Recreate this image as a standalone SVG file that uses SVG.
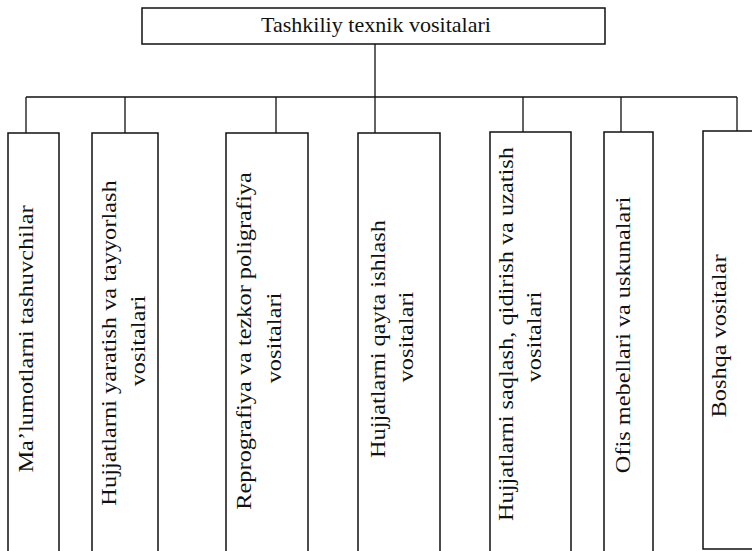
<svg xmlns="http://www.w3.org/2000/svg" width="752" height="551" viewBox="0 0 752 551">
<style>
.box{fill:#fff;stroke:#111;stroke-width:1.5}
.ln{fill:none;stroke:#111;stroke-width:1.3}
.t{font-family:"Liberation Serif","Times New Roman",serif;font-size:21px;fill:#111;text-anchor:middle}
</style>
<rect width="752" height="551" fill="#fff"/>
<g id="connectors">
<path class="ln" d="M375 44V133M26 97H737M26 97V133M125 97V133M276 97V133M523 97V132M621 97V132M737 97V131"/>
</g>
<g id="root">
<rect class="box" x="142" y="8" width="463" height="36"/>
<text class="t" x="376" y="32" font-size="20" textLength="230" lengthAdjust="spacingAndGlyphs">Tashkiliy texnik vositalari</text>
</g>
<g id="n1">
<rect class="box" x="8" y="133" width="51" height="430"/>
<text class="t" transform="translate(33,339) scale(1,1.16) rotate(-90)">Ma’lumotlarni tashuvchilar</text>
</g>
<g id="n2">
<rect class="box" x="92" y="133" width="66" height="430"/>
<text class="t" transform="translate(116,343) scale(1,1.16) rotate(-90)">Hujjatlarni yaratish va tayyorlash</text>
<text class="t" transform="translate(145,341) scale(1,1.16) rotate(-90)">vositalari</text>
</g>
<g id="n3">
<rect class="box" x="226" y="133" width="82" height="430"/>
<text class="t" transform="translate(251,341) scale(1,1.16) rotate(-90)">Reprografiya va tezkor poligrafiya</text>
<text class="t" transform="translate(281,338) scale(1,1.16) rotate(-90)">vositalari</text>
</g>
<g id="n4">
<rect class="box" x="358" y="133" width="82" height="430"/>
<text class="t" transform="translate(385,339) scale(1,1.16) rotate(-90)">Hujjatlarni qayta ishlash</text>
<text class="t" transform="translate(413,337) scale(1,1.16) rotate(-90)">vositalari</text>
</g>
<g id="n5">
<rect class="box" x="490" y="132" width="81" height="430"/>
<text class="t" transform="translate(513,334) scale(1,1.16) rotate(-90)">Hujjatlarni saqlash, qidirish va uzatish</text>
<text class="t" transform="translate(541,337) scale(1,1.16) rotate(-90)">vositalari</text>
</g>
<g id="n6">
<rect class="box" x="604" y="132" width="49" height="430"/>
<text class="t" transform="translate(630,335) scale(1,1.16) rotate(-90)">Ofis mebellari va uskunalari</text>
</g>
<g id="n7">
<rect class="box" x="703" y="131" width="60" height="418"/>
<text class="t" transform="translate(726,336) scale(1,1.16) rotate(-90)">Boshqa vositalar</text>
</g>
</svg>
